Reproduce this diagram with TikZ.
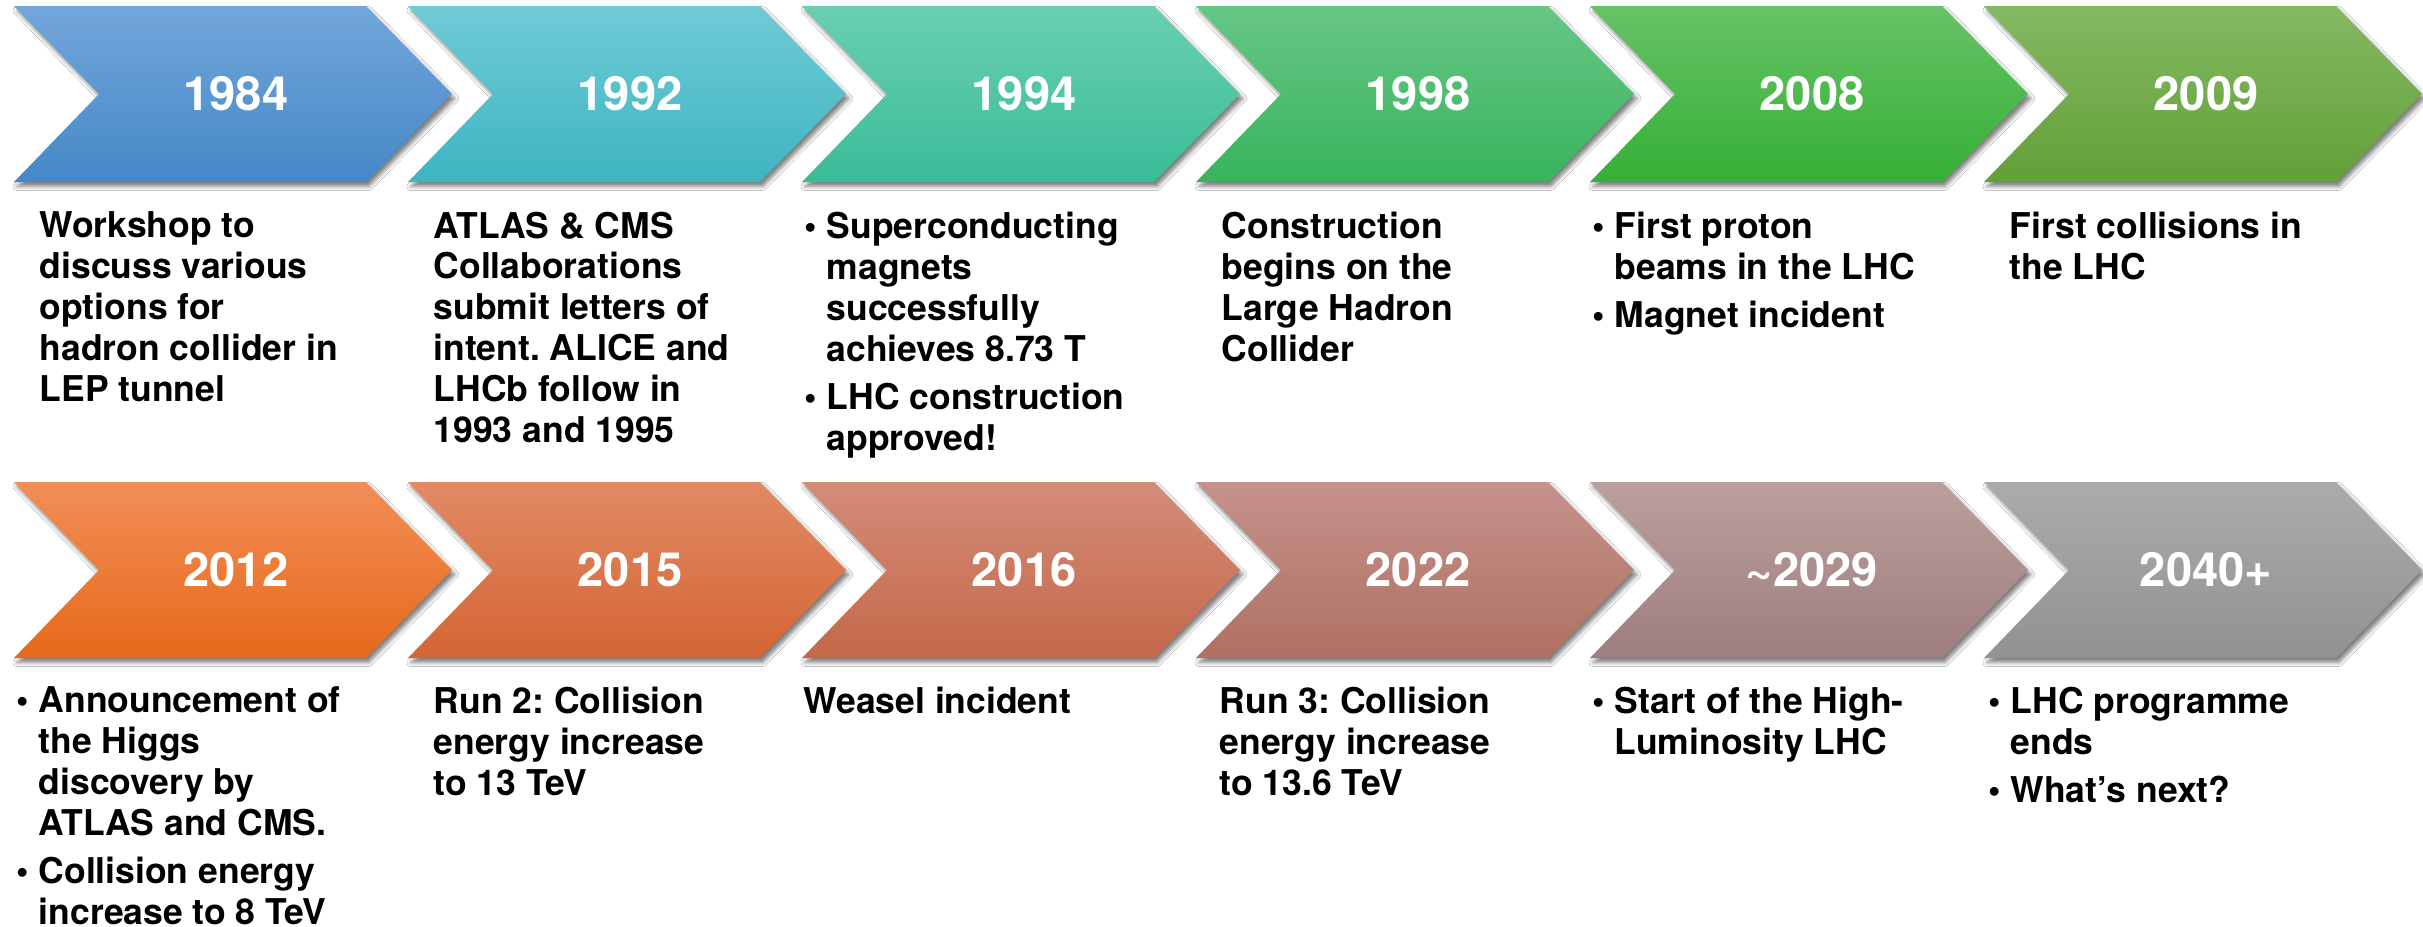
\documentclass[tikz,border=0pt]{standalone}
\usepackage{fontspec}
\setmainfont{TeX Gyre Heros}
\usepackage{xcolor}
\usepackage{tikz}
\usetikzlibrary{positioning}
\usetikzlibrary{shadows.blur}
\frenchspacing

% top and bottom colours of the chevrons
\definecolor{t1984}{HTML}{73A6DB}\definecolor{b1984}{HTML}{4488C6}
\definecolor{t1992}{HTML}{6FCBD5}\definecolor{b1992}{HTML}{3EB5C2}
\definecolor{t1994}{HTML}{69CFB2}\definecolor{b1994}{HTML}{3ABC98}
\definecolor{t1998}{HTML}{68C686}\definecolor{b1998}{HTML}{37B45C}
\definecolor{t2008}{HTML}{66C266}\definecolor{b2008}{HTML}{36B036}
\definecolor{t2009}{HTML}{84B963}\definecolor{b2009}{HTML}{62A038}
\definecolor{t2012}{HTML}{F28E58}\definecolor{b2012}{HTML}{E6691A}
\definecolor{t2015}{HTML}{E18A64}\definecolor{b2015}{HTML}{D46535}
\definecolor{t2016}{HTML}{D48C79}\definecolor{b2016}{HTML}{C46849}
\definecolor{t2022}{HTML}{C5928C}\definecolor{b2022}{HTML}{B07062}
\definecolor{t2029}{HTML}{BBA09E}\definecolor{b2029}{HTML}{9E7E7C}
\definecolor{t2040}{HTML}{ABABAB}\definecolor{b2040}{HTML}{929292}

\newcommand{\itm}{\makebox[0.22cm][l]{\textbullet}}
\newcommand{\ind}{\hspace*{0.22cm}}

\begin{document}
\begin{tikzpicture}[x=0.01cm, y=-0.01cm]

    \tikzset{
        chev/.style={blur shadow={shadow xshift=0.03cm, shadow yshift=-0.045cm,
            shadow blur radius=0.04cm, shadow opacity=50}},
        year/.style={text=white, inner sep=0pt,
            font=\fontsize{13.4pt}{14pt}\selectfont\bfseries},
        info/.style={anchor=north west, align=left, inner sep=0pt,
            font=\fontsize{10.1pt}{11.65pt}\selectfont\bfseries}
    }

    \path[fill=white, use as bounding box] (0,0) rectangle (2423,927);

    % the twelve chevrons, two rows of six
    \foreach \id/\lab/\i/\row in {1984/1984/0/0, 1992/1992/1/0, 1994/1994/2/0,
        1998/1998/3/0, 2008/2008/4/0, 2009/2009/5/0,
        2012/2012/0/1, 2015/2015/1/1, 2016/2016/2/1,
        2022/2022/3/1, 2029/{\textasciitilde2029}/4/1, 2040/{2040+}/5/1} {
        \pgfmathsetmacro\lx{14+394*\i}
        \pgfmathsetmacro\ty{6+476*\row}
        \path[chev, top color=t\id, bottom color=b\id]
            (\lx,\ty) -- ++(352,0) -- ++(86,88) -- ++(-86,88)
            -- ++(-352,0) -- ++(85,-88) -- cycle;
        \node[year] (c\id) at (\lx+222,\ty+88) {\lab};
    }

    % first row
    \node[info] (t1984) at (39,211)
    {Workshop to\\discuss various\\options for\\hadron collider in\\LEP tunnel};
    \node[info] (t1992) at (433,211)
    {ATLAS \& CMS\\Collaborations\\submit letters of\\intent. ALICE and\\LHCb follow in\\1993 and 1995};
    \node[info] (t1994) at (804,211)
    {\itm Superconducting\\\ind magnets\\\ind successfully\\\ind achieves 8.73 T\\[2pt]\itm LHC construction\\\ind approved!};
    \node[info] (t1998) at (1221,211)
    {Construction\\begins on the\\Large Hadron\\Collider};
    \node[info] (t2008) at (1592,211)
    {\itm First proton\\\ind beams in the LHC\\[2pt]\itm Magnet incident};
    \node[info] (t2009) at (2009,211)
    {First collisions in\\the LHC};

    % second row
    \node[info] (t2012) at (16,686)
    {\itm Announcement of\\\ind the Higgs\\\ind discovery by\\\ind ATLAS and CMS.\\[2pt]\itm Collision energy\\\ind increase to 8 TeV};
    \node[info] (t2015) at (433,686)
    {Run 2: Collision\\energy increase\\to 13 TeV};
    \node[info] (t2016) at (803,686)
    {Weasel incident};
    \node[info] (t2022) at (1219,686)
    {Run 3: Collision\\energy increase\\to 13.6 TeV};
    \node[info] (t2029) at (1592,686)
    {\itm Start of the High-\\\ind Luminosity LHC};
    \node[info] (t2040) at (1988,686)
    {\itm LHC programme\\\ind ends\\[2pt]\itm What’s next?};

\end{tikzpicture}
\end{document}
